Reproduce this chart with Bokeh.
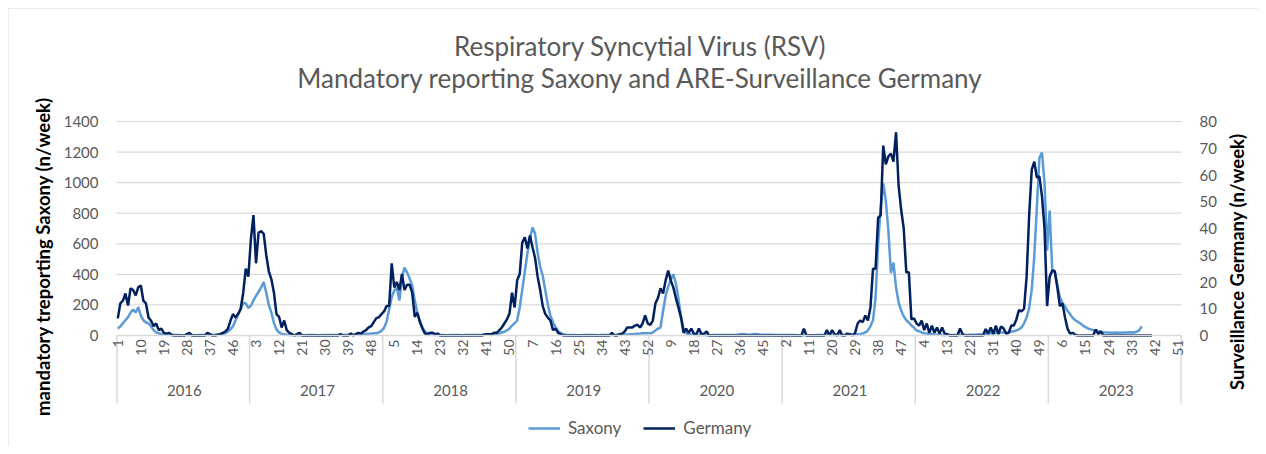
import math
from bokeh.plotting import figure
from bokeh.models import Range1d, LinearAxis, FixedTicker, Legend, LegendItem, Label
from bokeh.embed import file_html
from bokeh.resources import INLINE

# ---------------- data ----------------
years = ["2016", "2017", "2018", "2019", "2020", "2021", "2022", "2023"]
weeks_per_year = 52

week_tick_labels = ["1", "10", "19", "28", "37", "46",
                    "3", "12", "21", "30", "39", "48",
                    "5", "14", "23", "32", "41", "50",
                    "7", "16", "25", "34", "43", "52",
                    "9", "18", "27", "36", "45",
                    "2", "11", "20", "29", "38", "47",
                    "4", "13", "22", "31", "40", "49",
                    "6", "15", "24", "33", "42", "51"]

saxony_2016 = [45, 60, 80, 100, 120, 150, 170, 150, 185, 130, 100, 85, 80, 60, 35, 20, 15, 10, 8, 5,
               5, 4, 3, 3, 3, 2, 2, 3, 3, 3, 2, 2, 3, 3, 4, 3, 3, 4, 5, 5,
               6, 8, 15, 25, 40, 60, 100, 140, 170, 215, 210, 180]
saxony_2017 = [195, 230, 260, 285, 315, 349, 280, 200, 150, 80, 40, 20, 10, 8, 5,
               4, 3, 3, 2, 2, 2, 2, 3, 3, 3, 3, 2, 2, 3, 3, 3, 3, 4, 4, 3, 3, 4, 4, 5, 5,
               5, 6, 6, 8, 8, 10, 12, 13, 15, 15, 20, 30]
saxony_2018 = [50, 90, 170, 250, 294, 314, 229, 379, 445, 412, 373, 327, 229, 150, 98, 52, 25, 15, 8, 5,
               4, 3, 3, 3, 2, 2, 3, 3, 3, 3, 2, 2, 3, 3, 3, 3, 4, 4, 4, 5,
               5, 5, 6, 8, 10, 15, 20, 25, 33, 45, 65, 80]
saxony_2019 = [98, 183, 300, 420, 536, 634, 706, 667, 540, 450, 390, 294, 200, 130, 85, 55, 30, 15, 8, 5,
               3, 3, 3, 2, 2, 2, 3, 3, 3, 3, 3, 2, 2, 3, 3, 3, 4, 4, 4, 5,
               5, 5, 6, 6, 8, 8, 10, 12, 13, 15, 15, 15]
saxony_2020 = [15, 20, 33, 45, 52, 160, 260, 320, 365, 400, 340, 240, 125, 46, 15, 10, 6, 5,
               4, 3, 3, 3, 2, 2, 2, 3, 3, 3, 3, 3, 3, 3, 3, 3, 5, 8, 10, 8,
               5, 5, 8, 10, 8, 5, 5, 5, 5, 5, 5, 4, 4, 4]
saxony_2021 = [3, 3, 3, 3, 3, 2, 2, 2, 2, 2, 2, 2, 2, 3, 3, 3, 3, 3, 3, 3, 3, 4, 4, 4,
               5, 5, 5, 6, 8, 8, 10, 13,
               20, 33, 60, 100, 248, 600, 837, 994, 883, 687, 410, 477, 314, 216, 163, 125, 100, 85, 65, 52]
saxony_2022 = [33, 28, 20, 15, 13, 10, 8, 6,
               5, 5, 4, 4, 4, 3, 3, 3, 3, 3, 3, 4, 4, 5, 5, 5, 6, 6, 8, 10, 12,
               15, 15, 18, 18, 20, 20, 20, 22, 25, 28,
               33, 40, 52, 80, 118, 180, 300, 520, 837, 1164, 1197, 1000, 556]
saxony_2023 = [818, 430, 420, 330, 250, 215, 190, 160, 140, 115, 100, 90, 78, 65, 55, 46, 40, 35, 33, 28,
               25, 22, 20, 20, 18, 18, 20, 18, 18, 20, 20, 20, 22, 20, 25, 33, 60]

germany_2016 = [6.4, 12, 13, 15.7, 11.2, 17.6, 17, 15, 18, 18.7, 13, 12, 6.7, 5.5, 3.5, 4.5, 2, 2.6, 1, 0.7,
                1, 0.3, 0, 0, 0, 0, 0, 0.5, 1, 0, 0, 0, 0, 0, 0, 1, 0.5, 0, 0, 0.3,
                0.5, 1, 1.5, 2.5, 5.5, 8, 6.7, 8, 10, 16, 25, 22]
germany_2017 = [36, 45, 27, 38.5, 39, 38, 30, 24, 21, 16, 8, 7, 3, 5.6, 2, 1, 0.5, 0, 0.5, 1,
                0, 0, 0, 0, 0, 0, 0, 0, 0, 0, 0, 0, 0, 0, 0, 0.5, 0, 0, 0, 0.7,
                0, 0.5, 1, 0.7, 1.5, 2, 3, 3.5, 5, 6.5, 6.8, 8]
germany_2018 = [9, 11, 11, 27, 18, 20, 17, 23, 17, 19, 19, 16, 7, 8.5, 5, 2.6, 0.7, 0.5, 1, 1,
                0.5, 0.7, 0, 0, 0, 0, 0, 0, 0, 0, 0, 0, 0, 0, 0, 0, 0, 0, 0, 0.3,
                0.5, 0.5, 0.5, 1, 1, 1.9, 3, 4.5, 6, 8.2, 16, 10.5]
germany_2019 = [20.6, 23, 34.8, 36.7, 32.5, 37.4, 33, 29, 22, 17, 11, 8, 6.7, 5.6, 2, 2.6, 1, 0.5, 0, 0,
                0, 0, 0, 0, 0, 0, 0, 0, 0, 0, 0, 0, 0, 0, 0, 0, 0, 1, 0, 0,
                0.5, 0.7, 1.5, 3, 3, 3, 3.7, 4, 3, 4.5, 7.5, 4.5]
germany_2020 = [4, 5.6, 12, 14, 17.6, 15.7, 20.6, 24.3, 20.6, 18, 14, 10.5, 6.7, 1, 2.6, 1, 2.6, 0.7, 0.5, 2.6,
                0.5, 0.7, 1.5, 0, 0, 0, 0, 0, 0, 0, 0, 0, 0, 0, 0, 0, 0, 0, 0, 0,
                0, 0, 0, 0, 0, 0, 0, 0, 0, 0, 0, 0]
germany_2021 = [0, 0, 0, 0, 0, 0, 0, 0, 2.5, 0, 0, 0, 0, 0, 0, 0, 0, 2, 0, 2, 0.5, 0, 2, 0, 0, 0.7, 0.5, 0, 1,
                4.5, 5.6, 5, 7.5, 5.6, 10.5, 25, 25, 44, 45, 71, 64, 67, 68, 65, 76, 56, 47, 40, 23.6, 23.6, 6, 6.4]
germany_2022 = [4.5, 3.7, 5.6, 2, 4.5, 1, 3.7, 1, 3, 0.7, 3, 0.7, 0.5, 0, 0, 0, 0, 2.6, 0.5, 0,
                0, 0, 0, 0, 0, 0, 0, 2.4, 0.7, 3, 0.5, 3.7, 0.5, 3.4, 2.6, 0.7, 1, 3.7, 3.7, 6,
                9.5, 9, 10, 22, 45, 62, 65, 59, 59.5, 52, 40, 11]
germany_2023 = [22, 24.3, 24, 18, 11, 12, 6.7, 2.5, 0.7, 1, 0.3, 0, 0, 0, 0, 0, 0, 0, 2.2, 0.5,
                1.5, 0, 0, 0, 0, 0, 0, 0, 0, 0, 0, 0, 0, 0, 0, 0, 0, 0, 0, 0, 0]

saxony = (saxony_2016 + saxony_2017 + saxony_2018 + saxony_2019 +
          saxony_2020 + saxony_2021 + saxony_2022 + saxony_2023)
germany = (germany_2016 + germany_2017 + germany_2018 + germany_2019 +
           germany_2020 + germany_2021 + germany_2022 + germany_2023)

n_weeks = weeks_per_year * len(years)
x_sax = list(range(len(saxony)))
x_ger = list(range(len(germany)))

# ---------------- styling / layout ----------------
FONT = "Lato"
GRAY_TXT = "#595959"
GRID = "#D9D9D9"
C_SAX = "#5B9BD5"
C_GER = "#002060"

SAX_MAX, GER_MAX = 1400, 80
W, H = 1250, 438                  # canvas (page offset 8 px)
PLOT_L, PLOT_R = 108, 1173        # value area, canvas pixels
PLOT_T, PLOT_B = 113, 327
BAND_PX = 68                      # year separator band below zero line
YEAR_AXIS_PX = 43                 # year label row offset below zero line

wk_per_px = n_weeks / (PLOT_R - PLOT_L)
s_per_px = SAX_MAX / (PLOT_B - PLOT_T)
g_per_px = GER_MAX / (PLOT_B - PLOT_T)

x_start = -0.5 - PLOT_L * wk_per_px
x_end = n_weeks - 0.5 + (W - PLOT_R) * wk_per_px
y_start = -(H - PLOT_B) * s_per_px
y_end = SAX_MAX + PLOT_T * s_per_px


def cx(px):  # canvas x pixel -> data x
    return x_start + px * wk_per_px


def cy(py):  # canvas y pixel -> data y (Saxony scale)
    return y_end - py * s_per_px


p = figure(width=W, height=H, frame_width=W, frame_height=H,
           output_backend="svg", toolbar_location=None,
           x_range=Range1d(x_start, x_end), y_range=Range1d(y_start, y_end),
           min_border_left=0, min_border_right=0, min_border_top=0, min_border_bottom=0,
           title=None)
p.extra_y_ranges = {"g": Range1d(-(H - PLOT_B) * g_per_px, GER_MAX + PLOT_T * g_per_px)}
p.outline_line_color = None
p.background_fill_color = "white"
p.border_fill_color = "white"
p.styles = {"margin": "8px", "outline": "1px solid #D9D9D9", "outline-offset": "-1px"}
p.xgrid.visible = False
p.ygrid.visible = False

# horizontal gridlines across the value area
grid_vals = list(range(0, SAX_MAX + 1, 200))
p.segment(x0=[-0.5] * len(grid_vals), y0=grid_vals, x1=[n_weeks - 0.5] * len(grid_vals), y1=grid_vals,
          line_color=GRID, line_width=1.2)

# year separators in the category band
boundaries = [-0.3] + [weeks_per_year * k - 0.5 for k in range(1, len(years))] + [n_weeks - 0.7]
p.segment(x0=boundaries, y0=[0] * len(boundaries), x1=boundaries,
          y1=[-BAND_PX * s_per_px] * len(boundaries),
          line_color=GRID, line_width=1.5)

# data lines
r_sax = p.line(x_sax, saxony, line_color=C_SAX, line_width=2.5)
r_ger = p.line(x_ger, germany, line_color=C_GER, line_width=2.5, y_range_name="g")

# left value axis
ly = p.yaxis[0]
ly.fixed_location = -0.5
ly.bounds = (0, SAX_MAX)
ly.ticker = FixedTicker(ticks=grid_vals, minor_ticks=[])
ly.axis_line_color = None
ly.major_tick_line_color = None
ly.minor_tick_line_color = None
ly.major_label_text_font = FONT
ly.major_label_text_font_size = "15px"
ly.major_label_text_color = GRAY_TXT
ly.major_label_standoff = 12

# right value axis
ry = LinearAxis(y_range_name="g", ticker=FixedTicker(ticks=list(range(0, GER_MAX + 1, 10)), minor_ticks=[]))
ry.fixed_location = n_weeks - 0.5
ry.bounds = (0, GER_MAX)
ry.axis_line_color = None
ry.major_tick_line_color = None
ry.minor_tick_line_color = None
ry.major_label_text_font = FONT
ry.major_label_text_font_size = "15px"
ry.major_label_text_color = GRAY_TXT
ry.major_label_standoff = 12
p.add_layout(ry, "right")

# week labels at the zero line
week_ticks = list(range(0, n_weeks, 9))
xa = p.xaxis[0]
xa.fixed_location = 0
xa.bounds = (-0.5, n_weeks - 0.5)
xa.ticker = FixedTicker(ticks=week_ticks, minor_ticks=[])
xa.major_label_overrides = {t: lab for t, lab in zip(week_ticks, week_tick_labels)}
xa.major_label_orientation = math.pi / 2
xa.major_label_text_font = FONT
xa.major_label_text_font_size = "14px"
xa.major_label_text_color = GRAY_TXT
xa.major_label_standoff = 4
xa.major_tick_out = 0
xa.major_tick_in = 0
xa.minor_tick_line_color = None
xa.axis_line_color = GRID
xa.axis_line_width = 1.5

# year labels row
year_ticks = [weeks_per_year * k + 26 for k in range(len(years))]
ya = LinearAxis(ticker=FixedTicker(ticks=year_ticks, minor_ticks=[]))
ya.fixed_location = -YEAR_AXIS_PX * s_per_px
ya.bounds = (-0.5, n_weeks - 0.5)
ya.major_label_overrides = {t: y for t, y in zip(year_ticks, years)}
ya.axis_line_color = None
ya.major_tick_line_color = None
ya.minor_tick_line_color = None
ya.major_tick_out = 0
ya.major_tick_in = 0
ya.major_label_text_font = FONT
ya.major_label_text_font_size = "15px"
ya.major_label_text_color = GRAY_TXT
ya.major_label_standoff = 6
p.add_layout(ya, "below")

# chart title (two lines) and axis titles
for txt, px, py in [("Respiratory Syncytial Virus (RSV)", 632, 37),
                    ("Mandatory reporting Saxony and ARE-Surveillance Germany", 632, 69)]:
    p.add_layout(Label(x=cx(px), y=cy(py), text=txt, text_align="center", text_baseline="middle",
                       text_font=FONT, text_font_size="26px", text_color=GRAY_TXT))

for txt, px, py in [("mandatory treporting Saxony (n/week)", 34, 248),
                    ("Surveillance  Germany (n/week)", 1228, 251)]:
    p.add_layout(Label(x=cx(px), y=cy(py), text=txt, angle=math.pi / 2,
                       text_align="center", text_baseline="middle",
                       text_font=FONT, text_font_size="18.5px", text_font_style="bold",
                       text_color="#000000"))

# legend
legend = Legend(items=[LegendItem(label="Saxony", renderers=[r_sax]),
                       LegendItem(label="Germany", renderers=[r_ger])],
                orientation="horizontal", location=(516, 4),
                label_text_font=FONT, label_text_font_size="17px", label_text_color=GRAY_TXT,
                glyph_width=32, glyph_height=16, label_standoff=8, spacing=22, padding=4, margin=0,
                border_line_alpha=0, background_fill_alpha=0)
p.add_layout(legend, "center")

open("out.html", "w").write(file_html(p, INLINE))
